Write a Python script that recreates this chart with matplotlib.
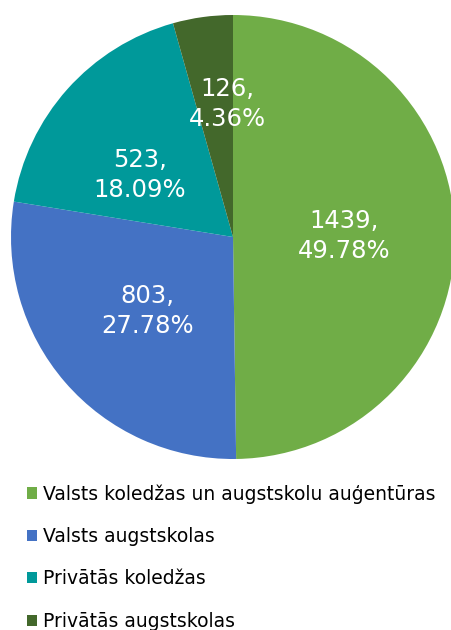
import numpy as np
import matplotlib.pyplot as plt
from matplotlib.patches import Patch

categories = ["Valsts koledžas un augstskolu auģentūras", "Valsts augstskolas",
              "Privātās koledžas", "Privātās augstskolas"]
values = [1439, 803, 523, 126]
percents = [49.78, 27.78, 18.09, 4.36]
colors = ["#70AD47", "#4472C4", "#00999A", "#43682B"]

fig = plt.figure(figsize=(4.52, 6.3), dpi=100)
# pie area in pixels: centre (233, 237 from top), radius 222
ax = fig.add_axes([11 / 452, 171 / 630, 444 / 452, 444 / 630])
wedges, _ = ax.pie(values, colors=colors, startangle=90, counterclock=False,
                   radius=1, wedgeprops=dict(linewidth=0))
ax.set_xlim(-1, 1)
ax.set_ylim(-1, 1)
ax.set_aspect("equal")
ax.axis("off")

# label distance from centre and small angle nudge (deg)
dist = [0.5, 0.51, 0.505, 0.6]
nudge = [0, 0, 8, -5.6]
for w, v, p, d, n in zip(wedges, values, percents, dist, nudge):
    ang = np.deg2rad((w.theta1 + w.theta2) / 2 + n)
    ax.text(d * np.cos(ang), d * np.sin(ang), f"{v},\n{p:.2f}%",
            ha="center", va="center", color="white", fontsize=17.5,
            linespacing=1.32)

handles = [Patch(facecolor=c, edgecolor="none") for c in colors]
fig.legend(handles, categories, loc="upper left", bbox_to_anchor=(27 / 452, 1 - 484 / 630),
           frameon=False, fontsize=13.5, handlelength=0.55, handleheight=0.55,
           handletextpad=0.3, labelspacing=1.25, borderaxespad=0, borderpad=0)

fig.savefig("out.png", dpi=100)
